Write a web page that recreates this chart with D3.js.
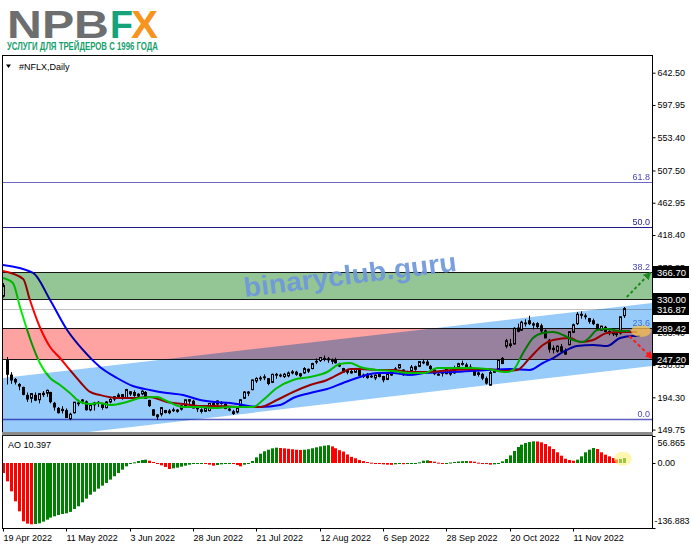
<!DOCTYPE html>
<html><head><meta charset="utf-8">
<script src="https://cdn.jsdelivr.net/npm/d3@7"></script>
<style>
html,body{margin:0;padding:0;background:#fff;}
svg{display:block;}
text{font-family:"Liberation Sans",Arial,sans-serif;}
</style></head><body>
<svg id="c" width="691" height="549"></svg>
<script>
// ---------------- DATA ----------------
const ohlc = [
["2022-04-19",334,352,332,348.6],["2022-04-20",245,250,212,226.2],["2022-04-21",225,229,213,218.2],["2022-04-22",219,221,212,215.5],
["2022-04-25",212,214,204,209.9],["2022-04-26",208,209,197,198.4],["2022-04-27",197,201,188,192],["2022-04-28",193,200,187,199.5],
["2022-04-29",197,201,189,190.4],["2022-05-02",191,200,186,199.5],["2022-05-03",198,203,195,199.9],["2022-05-04",200,205,195,204],
["2022-05-05",201,202,186,188.3],["2022-05-06",186,188,176,181],["2022-05-09",179,181,172,173.1],["2022-05-10",176,182,172,177.7],
["2022-05-11",176,179,166,166.4],["2022-05-12",165,173,162.7,171],["2022-05-13",173,188,172,187.6],["2022-05-16",186,191,182,186.5],
["2022-05-17",189,192,185,190.6],["2022-05-18",188,190,176,177.2],["2022-05-19",177,185,175,183.5],["2022-05-20",184,188,176,186.4],
["2022-05-23",186,189,181,187.4],["2022-05-24",184,186,177,180.3],["2022-05-25",180,189,179,187.8],["2022-05-26",188,193,186,191.4],
["2022-05-27",192,196,189,195.2],["2022-05-31",195,200,193,197.4],["2022-06-01",198,199,191,192.9],["2022-06-02",193,206,192,205.1],
["2022-06-03",202,203,196,199],["2022-06-06",201,204,195,197.1],["2022-06-07",196,200,193,198.6],["2022-06-08",199,204,197,202.8],
["2022-06-09",201,203,192,192.8],["2022-06-10",190,191,181,182.9],["2022-06-13",177,178,169,169.7],["2022-06-14",170,171,163,167.5],
["2022-06-15",171,181,168,180.1],["2022-06-16",176,177,172,173.4],["2022-06-17",173,178,171,175.5],["2022-06-21",177,180,174,177],
["2022-06-22",175,178,173,176.7],["2022-06-23",178,184,176,182.6],["2022-06-24",183,191,182,190.9],["2022-06-27",191,192,185,189.1],
["2022-06-28",189,191,179,179.6],["2022-06-29",180,181,174,178.4],["2022-06-30",177,179,172,174.9],["2022-07-01",175,181,174,180],
["2022-07-05",176,186,175,185.9],["2022-07-06",186,188,181,184.1],["2022-07-07",185,190,184,189.3],["2022-07-08",187,189,184,187],
["2022-07-11",185,186,178,178.8],["2022-07-12",178,180,175,176.6],["2022-07-13",172,177,170,174.5],["2022-07-14",174,181,172,179.3],
["2022-07-15",183,192,182,190.9],["2022-07-18",193,203,192,201.6],["2022-07-19",200,203,196,201.6],["2022-07-20",205,219,204,218.3],
["2022-07-21",217,222,214,220.4],["2022-07-22",220,224,217,221],["2022-07-25",222,226,218,222.5],["2022-07-26",220,221,211,213.4],
["2022-07-27",215,227,214,226],["2022-07-28",226,228,220,226],["2022-07-29",224,227,222,224.9],["2022-08-01",223,228,221,226.2],
["2022-08-02",224,230,222,228],["2022-08-03",228,232,226,229.5],["2022-08-04",229,231,224,226],["2022-08-05",224,228,222,226.8],
["2022-08-08",228,236,227,234],["2022-08-09",233,234,228,230.5],["2022-08-10",234,242,233,241],["2022-08-11",243,248,240,244],
["2022-08-12",245,250,243,249.3],["2022-08-15",248,252,244,246.7],["2022-08-16",246,250,242,247.5],["2022-08-17",245,248,240,245.2],
["2022-08-18",246,249,241,242],["2022-08-19",240,242,236,237.5],["2022-08-22",234,235,228,229],["2022-08-23",229,232,226,231.5],
["2022-08-24",230,233,227,228],["2022-08-25",229,235,228,233.5],["2022-08-26",232,234,224,224.6],["2022-08-29",223,227,221,225],
["2022-08-30",226,228,220,221.5],["2022-08-31",223,227,221,223.6],["2022-09-01",221,226,218,225],["2022-09-02",227,229,222,223],
["2022-09-06",223,224,215,218.4],["2022-09-07",219,227,218,226.8],["2022-09-08",225,232,224,230],["2022-09-09",232,236,231,233.6],
["2022-09-12",235,240,234,239.5],["2022-09-13",232,233,224,225.5],["2022-09-14",226,231,224,229.9],["2022-09-15",231,239,230,236],
["2022-09-16",233,238,231,236.6],["2022-09-19",237,244,236,243.6],["2022-09-20",242,247,240,243],["2022-09-21",243,246,238,239],
["2022-09-22",237,239,232,234],["2022-09-23",232,233,225,227],["2022-09-26",226,230,224,226],["2022-09-27",229,231,223,227.5],
["2022-09-28",227,235,226,233],["2022-09-29",231,233,224,226.5],["2022-09-30",228,238,227,235.4],["2022-10-03",236,242,233,240.7],
["2022-10-04",241,245,238,241],["2022-10-05",239,242,234,236.7],["2022-10-06",236,240,233,235],["2022-10-07",232,233,224,225],
["2022-10-10",226,230,223,228],["2022-10-11",226,228,218,220.8],["2022-10-12",220,223,212,214],["2022-10-13",211,231,211,228.5],
["2022-10-14",229,233,228,230],["2022-10-17",234,246,233,245.2],["2022-10-18",248,250,240,241],["2022-10-19",265,275,262,272.4],
["2022-10-20",268,275,263,265.9],["2022-10-21",268,291,267,289.6],["2022-10-24",290,296,284,285.5],["2022-10-25",287,300,286,298],
["2022-10-26",296,302,292,296.9],["2022-10-27",300,307,294,296],["2022-10-28",294,298,288,295.7],["2022-10-31",296,298,289,291.9],
["2022-11-01",293,296,283,286],["2022-11-02",286,288,276,276.3],["2022-11-03",273,275,256,260.8],["2022-11-04",262,266,255,260.2],
["2022-11-07",258,266,256,265],["2022-11-08",264,268,255,258],["2022-11-09",258,262,253,254],["2022-11-10",267,285,266,284.9],
["2022-11-11",284,296,283,294.5],["2022-11-14",296,312,294,309],["2022-11-15",309,313,303,307.5],["2022-11-16",306,310,302,306.8],
["2022-11-17",303,304,296,299.2],["2022-11-18",300,303,294,296],["2022-11-21",295,296,287,288.5],["2022-11-22",287,293,286,292.6],
["2022-11-23",291,293,284,285],["2022-11-25",285,287,280,283.5],["2022-11-28",283,285,279,282],["2022-11-29",282,284,278,281],
["2022-11-30",283,306,281,305.5],["2022-12-01",307,319,304,316.9]
];
const dateTicks = ["2022-04-19","2022-05-11","2022-06-03","2022-06-28","2022-07-21","2022-08-12","2022-09-06","2022-09-28","2022-10-20","2022-11-11"];
const priceTicks = [642.50,597.95,553.40,507.50,462.95,418.40,373.85,283.40,238.85,194.30,149.75];
const levelLines = [366.70,330.00,289.42,247.20];
const bidPrice = 316.87;
const boxLabels = [366.70,330.00,316.87,289.42,247.20];
const greenZone = [330.00,366.70];
const redZone = [247.20,289.42];
const fibLow = 164.50, fibHigh = 693.80;
const fibLevels = [0,23.6,38.2,50.0,61.8];
const channelUpper = [[0,221.0],[164,324.5]];
const channelLower = [[0,132.6],[164,237.6]];
const jaw = [[0,377],[7.6,366],[11.9,328.7],[16.2,287.3],[20.2,259.7],[24.5,236.2],[28.8,221],[32.8,210],[37.1,204.5],[41.4,200.3],[45.5,197.5],[49.8,190.6],[53.6,187.8],[57.4,186.5],[60.6,183.7],[64.9,181],[70,183.7],[73.3,193.4],[77.6,200.3],[81.9,205.8],[85.9,214.1],[90.2,222.4],[94.5,227.9],[98.5,227.9],[102.8,225.1],[106.6,227.9],[113.7,229.3],[122.3,232.1],[128.1,233.4],[133.1,232.1],[136.4,241.7],[139,248.6],[141.5,256.9],[145,265.2],[149.1,266.6],[152.6,265.2],[155.9,276.2],[159.2,279],[161,279]];
const teeth = [[0,368.7],[5.1,357.7],[6.8,328.7],[9.3,291.4],[11.9,263.8],[14.4,248.6],[16.9,232.1],[19.5,215.5],[22,201.7],[24.5,197.5],[28.8,193.4],[32.8,193.4],[37.1,194.8],[41.4,187.9],[45.5,185.1],[49.8,182.3],[53.6,182.3],[60.6,181],[64.9,181],[69.2,190.6],[73.3,201.7],[77.6,211.3],[81.9,218.3],[85.9,229.3],[87.7,233.4],[90.2,233.4],[94.5,232.1],[98.5,232.1],[102.8,229.3],[106.6,229.3],[113.7,232.1],[122.3,233.4],[126.3,230.7],[129.9,232.1],[133.1,248.6],[136.4,266.6],[139,273.5],[143.3,276.2],[145.8,270.7],[149.1,273.5],[152.6,283.2],[155.9,284.5],[160.2,284.5]];
const lips = [[0,359],[2.5,352.2],[4.3,319],[6.1,287.3],[7.6,263.8],[9.3,241.7],[11.9,221],[14.4,211.3],[16.9,200.3],[19.5,187.9],[22,185.1],[24.5,186.5],[27,183.7],[31.3,187.9],[34.6,193.4],[38.9,194.8],[41.4,189.3],[45.5,181],[49.8,181],[53.6,179.6],[57.4,181],[63.2,181],[65.7,190.6],[69.2,207.2],[73.3,218.3],[77.6,222.4],[81.9,229.3],[85.1,240.3],[87.7,241.7],[90.2,236.2],[94.5,232.1],[98.5,230.7],[102.8,227.9],[106.6,227.9],[109.7,234.8],[118,234.8],[122.3,233.4],[127.3,229.3],[128.9,232.1],[131.4,255.5],[133.9,276.2],[136.4,283.2],[139,284.5],[141.5,280.4],[144,273.5],[146.5,270.7],[148.3,277.6],[150.1,287.3],[152.6,288.6],[155.9,285.9],[158.4,285.9]];
const ao = [-21,-38.6,-59.7,-80.7,-101.8,-122.8,-127.7,-129.1,
-128.4,-127,-123.5,-119.3,-115,-112.3,-109.5,-107.4,-106,-103,-96.8,-91.2,-82.8,-75,-66.7,-60.4,-54,-47.7,-42.1,-35,-28,-21,-14,-7,-2.1,
1.4,4.2,6.3,7, 4.9,2.1,-1.4,-4.9,-8.4,-12.6, -11.2,-9.8,-7.7,-5.6,-3.5,-2.1,-1.4,-0.7, -2.1,-3.5,-5.6, -4.2,-2.8,-2.1,-0.7, -2.1,-4.2,-7,
-3.5,-0.7,4.2,11.9,19.6,24.6,28,30.9,32.3, 31.6,30.9,30,29,28,27.5, 28,29,31,33,35,36.5,37.5, 35,31,27,
24,18,13,10,6.5,4,2.1,0.7,-0.7,-2.1,-2.8,-3.5,-3.9, -2.8,-2.1, -2.5, -1.8,-0.7,0,1.4,4.9,5.6, 4.2,2.8,0.7,-0.7,
0,1,2.1,3.2,3.9,4.2, 3.9,2.8,0.7,-0.7,-2.1,-3.5, -2.8,0,3.5,8.4,16.1,25.3,33.7,38.6,42.1,44.2,45.6,
45.3,43.5,40,35.1,29.5,22.5,15.4,9.1,6.3,4.9, 7,14,22.5,28.1,31.6, 29.5,22.5,17.5,14,10.5,7.5, 8.6,10.397];
const aoTicks = [56.865,0,-136.883];
const aoTickLabels = ["56.865","0.00","-136.883"];
const aoTitle = "AO 10.397";
const symbolTitle = "#NFLX,Daily";
const watermark = "binaryclub.guru";
const arrowUp = [[157.6,332.8],[163.5,365.9]];
const arrowDown = [[158.2,279],[164,248.6]];
const focusMain = [161.2,287.2];
const focusAO = [156.6,9];

// ---------------- LAYOUT ----------------
const L = 3, R = 652, T = 56, B = 432, AT = 436, AB = 528;
const svg = d3.select("#c");
const x = d3.scaleLinear().domain([0,157]).range([3, 3+157*3.958]);
const y = d3.scaleLinear().domain([149.75,642.5]).range([429.6,72.7]);
const ya = d3.scaleLinear().domain([-136.883,56.865]).range([AB,AT]);
const idx = new Map(ohlc.map((d,i)=>[d[0],i]));

svg.append("rect").attr("width",691).attr("height",549).attr("fill","#fff");
const defs = svg.append("defs");
defs.append("clipPath").attr("id","mainClip").append("rect").attr("x",L).attr("y",T).attr("width",R-L).attr("height",B-T);
defs.append("clipPath").attr("id","aoClip").append("rect").attr("x",L).attr("y",AT).attr("width",R-L).attr("height",AB-AT);
function marker(id,color){
  defs.append("marker").attr("id",id).attr("viewBox","0 0 10 10").attr("refX",8).attr("refY",5)
   .attr("markerWidth",4).attr("markerHeight",4).attr("orient","auto").attr("markerUnits","strokeWidth")
   .append("path").attr("d","M0,0L10,5L0,10z").attr("fill",color);
}
marker("arG","#1f8a1f"); marker("arR","#ff1a1a");

// ---------------- MAIN PANEL ----------------
const main = svg.append("g").attr("clip-path","url(#mainClip)");
const fibLine = {0:"#5f5fc4",23.6:"#5f5fc4",38.2:"#5f5fc4",50:"#1c1c8a",61.8:"#6a6ac6"};
const fibText = {0:"#4848b0",23.6:"#3f6fd0",38.2:"#4848b0",50:"#1c1c8a",61.8:"#4848b0"};
const fibPrice = lv => fibLow + (fibHigh-fibLow)*lv/100;
fibLevels.forEach(lv=>{
  const yy = Math.round(y(fibPrice(lv)))+0.5;
  main.append("line").attr("x1",L).attr("x2",R).attr("y1",yy).attr("y2",yy)
    .attr("stroke",fibLine[lv]).attr("stroke-width",lv===0?1.5:1.2);
});
main.append("line").attr("x1",L).attr("x2",R).attr("y1",Math.round(y(bidPrice))+0.5).attr("y2",Math.round(y(bidPrice))+0.5)
  .attr("stroke","#c0c0c0").attr("stroke-width",1);
levelLines.forEach(p=>{
  const yy = Math.round(y(p))+0.5;
  main.append("line").attr("x1",L).attr("x2",R).attr("y1",yy).attr("y2",yy).attr("stroke","#1a1a1a").attr("stroke-width",1);
});

// candles
const cg = main.append("g");
ohlc.forEach((d,i)=>{
  const [dt,o,h,l,c] = d;
  const cx = Math.round(x(i));
  cg.append("line").attr("x1",cx+0.5).attr("x2",cx+0.5).attr("y1",y(h)).attr("y2",y(l)).attr("stroke","#000").attr("stroke-width",1);
  const top = y(Math.max(o,c)), bot = y(Math.min(o,c));
  cg.append("rect").attr("x",cx-0.5).attr("width",2).attr("y",top).attr("height",Math.max(0.8,bot-top))
    .attr("fill",c>=o?"#fff":"#000").attr("stroke","#000").attr("stroke-width",1);
});

// alligator
const lineGen = d3.line().x(d=>x(d[0])).y(d=>y(d[1])).curve(d3.curveMonotoneX);
[[jaw,"#0000ff"],[teeth,"#ff0000"],[lips,"#00ee00"]].forEach(([data,col])=>{
  main.append("path").attr("d",lineGen(data)).attr("fill","none").attr("stroke",col).attr("stroke-width",2);
});

// zones & channel (multiply blend)
function zone(z,col){
  main.append("rect").attr("x",L).attr("width",R-L).attr("y",y(z[1])).attr("height",y(z[0])-y(z[1]))
   .attr("fill",col).style("mix-blend-mode","multiply");
}
zone(greenZone,"#94c594");
zone(redZone,"#ffa2a2");
function chanAt(line,i){const [a,b]=line;return a[1]+(b[1]-a[1])*(i-a[0])/(b[0]-a[0]);}
const i0=-2,i1=170;
const poly = [[i0,chanAt(channelUpper,i0)],[i1,chanAt(channelUpper,i1)],[i1,chanAt(channelLower,i1)],[i0,chanAt(channelLower,i0)]];
main.append("path").attr("d","M"+poly.map(p=>[x(p[0]),y(p[1])].join(",")).join("L")+"Z")
  .attr("fill","#97cbf9").style("mix-blend-mode","multiply");

// watermark
main.append("text").attr("transform","translate(245,297) rotate(-7)")
  .attr("font-family","'DejaVu Sans',sans-serif").attr("font-weight","bold").attr("font-size",27)
  .attr("textLength",214).attr("lengthAdjust","spacingAndGlyphs")
  .attr("fill","#6e97dc").attr("fill-opacity",0.92).text(watermark);

// focus highlight
main.append("ellipse").attr("cx",x(focusMain[0])).attr("cy",y(focusMain[1])+1).attr("rx",10).attr("ry",6)
  .attr("fill","#f7c24c").attr("fill-opacity",0.75);
// fib labels
fibLevels.forEach(lv=>{
  const yy = Math.round(y(fibPrice(lv)))+0.5;
  main.append("text").attr("x",R-2).attr("y",yy-2.5).attr("text-anchor","end")
    .attr("font-size",9).attr("fill",fibText[lv]).text(lv.toFixed(1));
});
// arrows
main.append("line").attr("x1",x(arrowUp[0][0])).attr("y1",y(arrowUp[0][1])).attr("x2",x(arrowUp[1][0])).attr("y2",y(arrowUp[1][1]))
  .attr("stroke","#1f8a1f").attr("stroke-width",2).attr("stroke-dasharray","3,2.5").attr("marker-end","url(#arG)");
main.append("line").attr("x1",x(arrowDown[0][0])).attr("y1",y(arrowDown[0][1])).attr("x2",x(arrowDown[1][0])).attr("y2",y(arrowDown[1][1]))
  .attr("stroke","#ff1a1a").attr("stroke-width",2).attr("stroke-dasharray","3.5,2.5").attr("marker-end","url(#arR)");

// title
svg.append("path").attr("d","M6,64.5L11,64.5L8.5,68z").attr("fill","#000");
svg.append("text").attr("x",19).attr("y",70).attr("font-size",9).attr("fill","#000").text(symbolTitle);

// ---------------- AO PANEL ----------------
const aog = svg.append("g").attr("clip-path","url(#aoClip)");
ao.forEach((v,i)=>{
  const prev = i>0?ao[i-1]:v+1;
  const cx = Math.round(x(i));
  const y0 = ya(0), y1 = ya(v);
  aog.append("rect").attr("x",cx-1).attr("width",3).attr("y",Math.min(y0,y1)).attr("height",Math.max(1,Math.abs(y1-y0)))
    .attr("fill",v>prev?"#008000":"#ff0000");
});
aog.append("ellipse").attr("cx",x(focusAO[0])).attr("cy",ya(focusAO[1])).attr("rx",9).attr("ry",7)
  .attr("fill","#fff07a").attr("fill-opacity",0.6);
svg.append("text").attr("x",8).attr("y",448).attr("font-size",9).attr("fill","#000").text(aoTitle);

// ---------------- AXES & FRAMES ----------------
const fontAx = g=>g.selectAll("text").attr("font-family","'Liberation Sans',Arial,sans-serif").attr("font-size",9).attr("fill","#000");
const yAxis = svg.append("g").attr("transform",`translate(${R+0.5},0)`)
  .call(d3.axisRight(y).tickValues(priceTicks).tickSize(3).tickPadding(2).tickFormat(d3.format(".2f")));
yAxis.select(".domain").remove(); fontAx(yAxis);
yAxis.selectAll("line").attr("stroke","#000");

const aAxis = svg.append("g").attr("transform",`translate(${R+0.5},0)`)
  .call(d3.axisRight(ya).tickValues(aoTicks).tickSize(3).tickPadding(2).tickFormat((d,i)=>aoTickLabels[i]));
aAxis.select(".domain").remove(); fontAx(aAxis);
aAxis.selectAll(".tick text").attr("dy",(d,i)=>i===0?"1.1em":(i===2?"-0.45em":"0.32em"))
  .attr("x",(d,i)=>i===2?2:5);
aAxis.selectAll(".tick text").filter((d,i)=>i===2).attr("textLength",35).attr("lengthAdjust","spacingAndGlyphs");
aAxis.selectAll("line").attr("stroke","#000");

const xAxis = svg.append("g").attr("transform",`translate(0,${AB+0.5})`)
  .call(d3.axisBottom(x).tickValues(dateTicks.map(d=>idx.get(d))).tickSize(3).tickPadding(3)
    .tickFormat(i=>d3.timeFormat("%-d %b %Y")(d3.timeParse("%Y-%m-%d")(ohlc[i][0]))));
xAxis.select(".domain").remove(); fontAx(xAxis);
xAxis.selectAll(".tick text").attr("text-anchor","start").attr("x",0);
xAxis.selectAll(".tick").attr("transform",d=>`translate(${Math.round(x(d))+0.5},0)`);
xAxis.selectAll("line").attr("stroke","#000");

// price boxes
boxLabels.forEach(p=>{
  const yy = Math.round(y(p));
  svg.append("rect").attr("x",R+1).attr("y",yy-6).attr("width",36).attr("height",12).attr("fill","#000");
  svg.append("text").attr("x",R+5).attr("y",yy+3.5).attr("font-size",9.5).attr("fill","#fff").text(p.toFixed(2));
});

// frames
const fr = svg.append("g").attr("fill","none").attr("stroke","#000").attr("shape-rendering","crispEdges");
fr.append("line").attr("x1",L-0.5).attr("x2",L-0.5).attr("y1",T).attr("y2",AB);
fr.append("line").attr("x1",R+0.5).attr("x2",R+0.5).attr("y1",T-1).attr("y2",AB+1);
fr.append("line").attr("x1",L-1).attr("x2",R+1).attr("y1",T-0.5).attr("y2",T-0.5);
svg.append("rect").attr("x",L-1).attr("y",B).attr("width",R-L+2).attr("height",3).attr("fill","#8c8c8c");
fr.append("line").attr("x1",L-1).attr("x2",R+1).attr("y1",B+0.5).attr("y2",B+0.5).attr("stroke","#555");
fr.append("line").attr("x1",L-1).attr("x2",R+1).attr("y1",AT-0.5).attr("y2",AT-0.5).attr("stroke","#222");
fr.append("line").attr("x1",L-1).attr("x2",R+1).attr("y1",AB+0.5).attr("y2",AB+0.5);

// ---------------- LOGO ----------------
const logo = svg.append("g").attr("font-family","'DejaVu Sans',sans-serif").attr("font-weight","bold").attr("font-size",39);
logo.append("text").attr("x",7).attr("y",38).attr("fill","#6d6e70").attr("textLength",102).attr("lengthAdjust","spacingAndGlyphs").text("NPB");
logo.append("text").attr("x",110).attr("y",38).attr("fill","#14a37a").attr("textLength",23).attr("lengthAdjust","spacingAndGlyphs").text("F");
logo.append("text").attr("x",131).attr("y",38).attr("fill","#f7941e").attr("textLength",27).attr("lengthAdjust","spacingAndGlyphs").text("X");
svg.append("text").attr("x",7).attr("y",50).attr("font-family","'Liberation Sans',Arial,sans-serif").attr("font-weight","bold")
  .attr("font-size",10).attr("fill","#17a06e").attr("textLength",151).attr("lengthAdjust","spacingAndGlyphs")
  .text("УСЛУГИ ДЛЯ ТРЕЙДЕРОВ С 1996 ГОДА");
</script></body></html>
